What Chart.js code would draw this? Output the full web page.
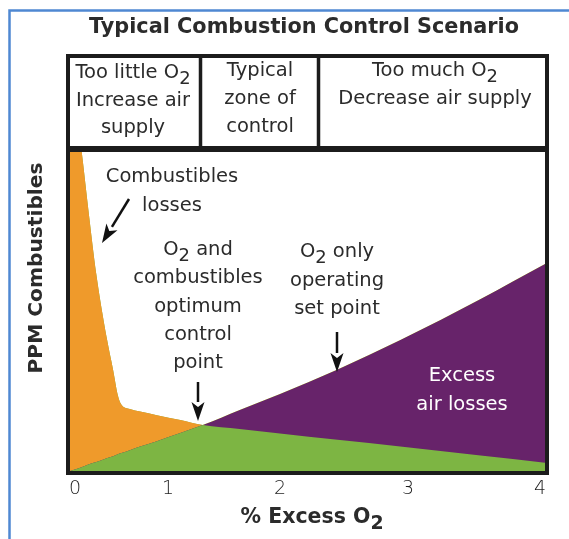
<!DOCTYPE html>
<html>
<head>
<meta charset="utf-8">
<script src="https://cdn.jsdelivr.net/npm/chart.js@4/dist/chart.umd.min.js"></script>
<style>
  html, body { margin: 0; padding: 0; background: #fff; }
  #wrap { width: 569px; height: 539px; position: relative; }
</style>
</head>
<body>
<div id="wrap"><canvas id="comboChart"></canvas></div>
<script>
// % excess O2 at each sample
const excessO2 = [-0.05, 0.07, 0.15, 0.23, 0.34, 0.41, 0.46, 0.5, 0.59, 0.7, 0.88, 1.11, 1.31, 1.64, 2.0, 2.45, 2.94, 3.55, 4.04];
// combustibles losses (arbitrary ppm scale, 0-100)
const combustibles = [128, 100, 79.8, 61.1, 41.7, 31.5, 23.7, 20.6, 19.3, 18.5, 17.4, 15.9, 14.3, 13.1, 11.7, 9.7, 7.6, 4.8, 2.6];
// excess air losses on the same scale
const excessAir = [0, 1.2, 2.1, 2.8, 4.0, 4.6, 5.2, 5.6, 6.5, 7.6, 9.3, 11.8, 14.3, 19.0, 24.0, 31.6, 40.8, 53.6, 64.5];

const tickValues = [0, 1, 2, 3, 4];
const tickLabels = ['0', '1', '2', '3', '4'];

// the x axis of the sketch is not linear: where each value sits across the plot
const warpValues = [-0.05, 0, 1, 2, 3, 4, 4.04];
const warpFrac = [0, 0.0105, 0.2063, 0.4421, 0.7116, 0.9895, 1];

const colors = {
    orange: '#EF9A2B',
    purple: '#67236A',
    green: '#7DB543',
    frame: '#1c1c1c',
    text: '#2b2b2b',
    blue: '#4F88D2'
};
const FONT = '"DejaVu Sans", "Open Sans", sans-serif';

class WarpedScale extends Chart.LinearScale {
    getPixelForValue(value) {
        let i = 1;
        while (i < warpValues.length - 1 && value > warpValues[i]) i++;
        const v0 = warpValues[i - 1], v1 = warpValues[i];
        const f = warpFrac[i - 1] + (value - v0) / (v1 - v0) * (warpFrac[i] - warpFrac[i - 1]);
        return this.getPixelForDecimal(f);
    }
    getValueForPixel(pixel) {
        const f = this.getDecimalForPixel(pixel);
        let i = 1;
        while (i < warpFrac.length - 1 && f > warpFrac[i]) i++;
        const t = (f - warpFrac[i - 1]) / (warpFrac[i] - warpFrac[i - 1]);
        return warpValues[i - 1] + t * (warpValues[i] - warpValues[i - 1]);
    }
}
WarpedScale.id = 'warped';
WarpedScale.defaults = Chart.LinearScale.defaults;
Chart.register(WarpedScale);

// text with "_2" style subscripts
function richLine(ctx, str, cx, cy, size, weight, color) {
    const parts = str.split(/_(\d)/);
    const subSize = size * 0.92;
    let total = 0;
    parts.forEach((p, i) => {
        ctx.font = weight + ' ' + (i % 2 ? subSize : size) + 'px ' + FONT;
        total += ctx.measureText(p).width;
    });
    let x = cx - total / 2;
    ctx.fillStyle = color;
    ctx.textAlign = 'left';
    ctx.textBaseline = 'middle';
    parts.forEach((p, i) => {
        const sub = i % 2 === 1;
        ctx.font = weight + ' ' + (sub ? subSize : size) + 'px ' + FONT;
        ctx.fillText(p, x, cy + (sub ? size * 0.32 : 0));
        x += ctx.measureText(p).width;
    });
}

function arrow(ctx, x1, y1, x2, y2) {
    const ang = Math.atan2(y2 - y1, x2 - x1);
    const len = 19, half = 6.5;
    const bx = x2 - len * Math.cos(ang), by = y2 - len * Math.sin(ang);
    ctx.strokeStyle = '#111';
    ctx.lineWidth = 2.5;
    ctx.beginPath();
    ctx.moveTo(x1, y1);
    ctx.lineTo(bx, by);
    ctx.stroke();
    ctx.fillStyle = '#111';
    ctx.beginPath();
    ctx.moveTo(x2, y2);
    ctx.lineTo(bx + half * Math.sin(ang), by - half * Math.cos(ang));
    ctx.lineTo(x2 - (len - 5) * Math.cos(ang), y2 - (len - 5) * Math.sin(ang));
    ctx.lineTo(bx - half * Math.sin(ang), by + half * Math.cos(ang));
    ctx.closePath();
    ctx.fill();
}

const decor = {
    id: 'decor',
    afterDraw(chart) {
        const ctx = chart.ctx;
        const a = chart.chartArea;
        ctx.save();

        // page frame
        ctx.strokeStyle = colors.blue;
        ctx.lineWidth = 2.5;
        ctx.beginPath();
        ctx.moveTo(9.5, 539);
        ctx.lineTo(9.5, 10.5);
        ctx.lineTo(569, 10.5);
        ctx.stroke();

        richLine(ctx, 'Typical Combustion Control Scenario', 304, 28, 20.8, 'bold', colors.text);

        // header boxes and plot frame
        ctx.strokeStyle = colors.frame;
        ctx.lineWidth = 4;
        ctx.strokeRect(a.left - 2, 56, a.right - a.left + 4, a.top - 56);
        ctx.strokeRect(a.left - 2, a.top - 2, a.right - a.left + 4, a.bottom - a.top + 4);
        ctx.lineWidth = 3.5;
        ctx.beginPath();
        ctx.moveTo(200.5, 56); ctx.lineTo(200.5, a.top);
        ctx.moveTo(318.5, 56); ctx.lineTo(318.5, a.top);
        ctx.stroke();

        const hs = 19.5;
        richLine(ctx, 'Too little O_2', 133, 73, hs, 'normal', colors.text);
        richLine(ctx, 'Increase air', 133, 101, hs, 'normal', colors.text);
        richLine(ctx, 'supply', 133, 128, hs, 'normal', colors.text);
        richLine(ctx, 'Typical', 260, 71, hs, 'normal', colors.text);
        richLine(ctx, 'zone of', 260, 99, hs, 'normal', colors.text);
        richLine(ctx, 'control', 260, 127, hs, 'normal', colors.text);
        richLine(ctx, 'Too much O_2', 435, 71, hs, 'normal', colors.text);
        richLine(ctx, 'Decrease air supply', 435, 99, hs, 'normal', colors.text);

        // annotations
        richLine(ctx, 'Combustibles', 172, 177, hs, 'normal', colors.text);
        richLine(ctx, 'losses', 172, 206, hs, 'normal', colors.text);
        arrow(ctx, 129, 199, 102, 243);

        ['O_2 and', 'combustibles', 'optimum', 'control', 'point'].forEach((t, i) => {
            richLine(ctx, t, 198, 250 + i * 28.3, hs, 'normal', colors.text);
        });
        arrow(ctx, 198, 382, 198, 421);

        ['O_2 only', 'operating', 'set point'].forEach((t, i) => {
            richLine(ctx, t, 337, 252 + i * 28.5, hs, 'normal', colors.text);
        });
        arrow(ctx, 337, 332, 337, 372);

        richLine(ctx, 'Excess', 462, 376, hs, 'normal', '#ffffff');
        richLine(ctx, 'air losses', 462, 405, hs, 'normal', '#ffffff');

        // axis titles
        richLine(ctx, '% Excess O_2', 312, 518, 20.5, 'bold', colors.text);
        ctx.translate(37, 268);
        ctx.rotate(-Math.PI / 2);
        richLine(ctx, 'PPM Combustibles', 0, 0, 20.2, 'bold', colors.text);
        ctx.restore();
    }
};

const pts = ys => excessO2.map((x, i) => ({ x: x, y: ys[i] }));
const none = 'rgba(0,0,0,0)';

new Chart(document.getElementById('comboChart'), {
    type: 'line',
    data: {
        datasets: [
            {
                label: 'Combustibles vs excess air',
                data: pts(combustibles),
                fill: { target: 1, above: colors.orange, below: colors.purple },
                borderColor: none,
                borderWidth: 0,
                pointRadius: 0,
                cubicInterpolationMode: 'monotone'
            },
            {
                label: 'Excess air losses',
                data: pts(excessAir),
                fill: 'origin',
                backgroundColor: colors.green,
                borderColor: none,
                borderWidth: 0,
                pointRadius: 0,
                cubicInterpolationMode: 'monotone'
            },
            {
                label: 'Combustibles losses',
                data: pts(combustibles),
                fill: 'origin',
                backgroundColor: colors.green,
                borderColor: none,
                borderWidth: 0,
                pointRadius: 0,
                cubicInterpolationMode: 'monotone'
            }
        ]
    },
    options: {
        responsive: true,
        maintainAspectRatio: false,
        animation: false,
        layout: {
            padding: { left: 70, right: 24, top: 150, bottom: 0 }
        },
        plugins: {
            legend: { display: false },
            title: { display: false },
            tooltip: { enabled: false }
        },
        scales: {
            x: {
                type: 'warped',
                min: warpValues[0],
                max: warpValues[warpValues.length - 1],
                grid: { display: false, drawTicks: false },
                border: { display: false },
                afterBuildTicks: function(scale) {
                    scale.ticks = tickValues.map(v => ({ value: v }));
                },
                afterFit: function(scale) {
                    scale.height = 68;
                },
                ticks: {
                    autoSkip: false,
                    maxRotation: 0,
                    padding: 7,
                    color: '#1e1e1e',
                    font: { family: FONT, size: 19, weight: 200 },
                    callback: function(value, index) {
                        return tickLabels[index];
                    }
                }
            },
            y: {
                display: false,
                min: 0,
                max: 100
            }
        }
    },
    plugins: [decor]
});
</script>
</body>
</html>
